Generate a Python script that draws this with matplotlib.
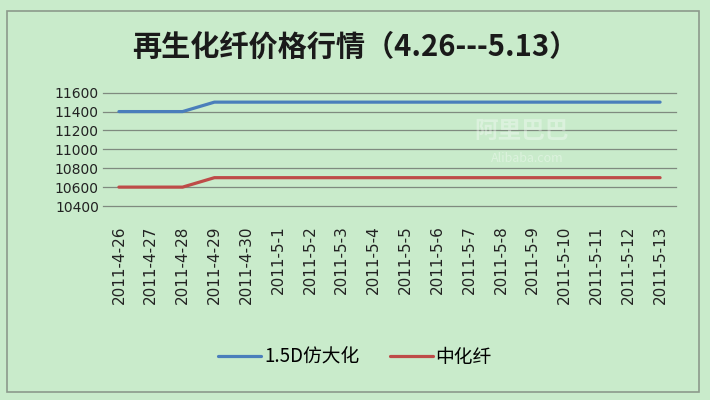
import matplotlib.pyplot as plt
from matplotlib.patches import Rectangle

plt.rcParams['font.family'] = ['Noto Sans CJK SC', 'DejaVu Sans']

dates = ["2011-4-26", "2011-4-27", "2011-4-28", "2011-4-29", "2011-4-30",
         "2011-5-1", "2011-5-2", "2011-5-3", "2011-5-4", "2011-5-5",
         "2011-5-6", "2011-5-7", "2011-5-8", "2011-5-9", "2011-5-10",
         "2011-5-11", "2011-5-12", "2011-5-13"]
fangdahua = [11400, 11400, 11400] + [11500] * 15
zhonghuaxian = [10600, 10600, 10600] + [10700] * 15
yticks = [10400, 10600, 10800, 11000, 11200, 11400, 11600]

bg = '#c9ebcb'
fig = plt.figure(figsize=(7.1, 4.0), dpi=100, facecolor=bg)

# chart border
fig.patches.append(Rectangle((7 / 710, 1 - 392 / 400), 692 / 710, 381 / 400,
                             transform=fig.transFigure, fill=False,
                             edgecolor='#8c9a8c', lw=1.2))

ax = fig.add_axes([103 / 710, 1 - 206 / 400, 573 / 710, 113.3 / 400])
ax.set_facecolor(bg)
x = range(len(dates))
ax.plot(x, fangdahua, color='#4a7ebb', lw=2.3, label='1.5D仿大化', solid_capstyle='round')
ax.plot(x, zhonghuaxian, color='#be4b48', lw=2.3, label='中化纤', solid_capstyle='round')

ax.set_xlim(-0.5, len(dates) - 0.5)
ax.set_ylim(10400, 11600)
ax.set_yticks(yticks)
ax.set_yticklabels([str(v) for v in yticks], fontsize=10, family='DejaVu Sans', color='#222222')
ax.set_xticks(list(x))
ax.set_xticklabels(dates, rotation=90, fontsize=11, family='DejaVu Sans', color='#222222')
ax.tick_params(axis='y', length=0, pad=3)
ax.tick_params(axis='x', length=0, pad=14)
ax.grid(axis='y', color='#7f8a7f', lw=0.9)
for gl in ax.get_ygridlines():
    gl.set_clip_on(False)
ax.set_axisbelow(True)
for s in ax.spines.values():
    s.set_visible(False)

# faint watermark
ax.text(0.73, 0.66, '阿里巴巴', transform=ax.transAxes, fontsize=17, color='white',
        alpha=0.35, ha='center', va='center', fontweight='bold')
ax.text(0.74, 0.42, 'Alibaba.com', transform=ax.transAxes, fontsize=9, color='white',
        alpha=0.35, ha='center', va='center')

fig.text(0.5, 1 - 47 / 400, '再生化纤价格行情（4.26---5.13）', ha='center', va='center',
         fontsize=21, fontweight='bold', color='#1a1a1a')

fig.legend(loc='center', bbox_to_anchor=(0.5, 1 - 357 / 400), ncol=2, frameon=False,
           prop={'size': 13.5}, handlelength=2.3, columnspacing=1.6, handletextpad=0.15)

fig.savefig('out.png', dpi=100, facecolor=bg)
